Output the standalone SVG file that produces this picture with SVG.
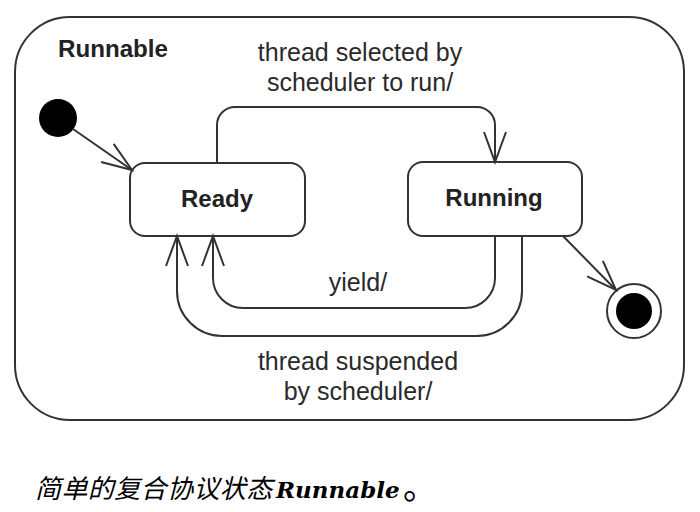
<svg xmlns="http://www.w3.org/2000/svg" width="700" height="512" viewBox="0 0 700 512">
<defs>
<style>
.ln{fill:none;stroke:#333;stroke-width:2}
.st{fill:#fff;stroke:#333;stroke-width:2}
.lbl{font-family:"Liberation Sans",Arial,sans-serif;font-size:25px;fill:#2a2a2a;text-anchor:middle}
.bold{font-family:"Liberation Sans",Arial,sans-serif;font-size:24px;font-weight:bold;fill:#222}
</style>
<marker id="open" markerUnits="userSpaceOnUse" markerWidth="40" markerHeight="40" viewBox="-35 -20 40 40" refX="0" refY="0" orient="auto" overflow="visible">
<path d="M-30,-11 L0,0 L-30,11" fill="none" stroke="#333" stroke-width="2"/>
</marker>
</defs>
<rect width="700" height="512" fill="#fff"/>
<g id="runnable">
<rect x="15" y="17" width="669" height="403" rx="55" ry="55" class="st"/>
<text x="58" y="57" class="bold" textLength="110" lengthAdjust="spacingAndGlyphs">Runnable</text>
</g>
<g id="initial">
<circle cx="58" cy="118" r="19" fill="#000"/>
</g>
<g id="ready">
<rect x="130" y="163" width="175" height="73" rx="15" ry="15" class="st"/>
<text x="217" y="207" class="bold" text-anchor="middle">Ready</text>
</g>
<g id="running">
<rect x="408" y="162" width="174" height="74" rx="15" ry="15" class="st"/>
<text x="494" y="206" class="bold" text-anchor="middle">Running</text>
</g>
<g id="final">
<circle cx="634" cy="311" r="27" class="st"/>
<circle cx="634" cy="311" r="18" fill="#000"/>
</g>
<g id="connectors">
<path class="ln" d="M73,129 L132,170" marker-end="url(#open)"/>
<path class="ln" d="M217,163 V125 A18,18 0 0 1 235,107 H477 A18,18 0 0 1 495,125 V162" marker-end="url(#open)"/>
<path class="ln" d="M495,236 V278 A30,30 0 0 1 465,308 H243 A30,30 0 0 1 213,278 V236" marker-end="url(#open)"/>
<path class="ln" d="M522,236 V291 A45,45 0 0 1 477,336 H222 A45,45 0 0 1 177,291 V236" marker-end="url(#open)"/>
<path class="ln" d="M563,236 L616,290" marker-end="url(#open)"/>
<text x="360" y="61" class="lbl">thread selected by</text>
<text x="360" y="91" class="lbl">scheduler to run/</text>
<text x="358" y="291" class="lbl">yield/</text>
<text x="358" y="370" class="lbl">thread suspended</text>
<text x="358" y="400" class="lbl">by scheduler/</text>
</g>
<g id="caption">
<text y="498" fill="#000" font-family="'Noto Sans CJK SC',sans-serif" font-size="26"><tspan x="35" font-style="italic" letter-spacing="0.4">简单的复合协议状态</tspan><tspan x="276" font-family="'DejaVu Serif','Liberation Serif',serif" font-style="italic" font-weight="bold" font-size="23">Runnable</tspan><tspan x="403" y="499" font-size="34">。</tspan></text>
</g>
</svg>
